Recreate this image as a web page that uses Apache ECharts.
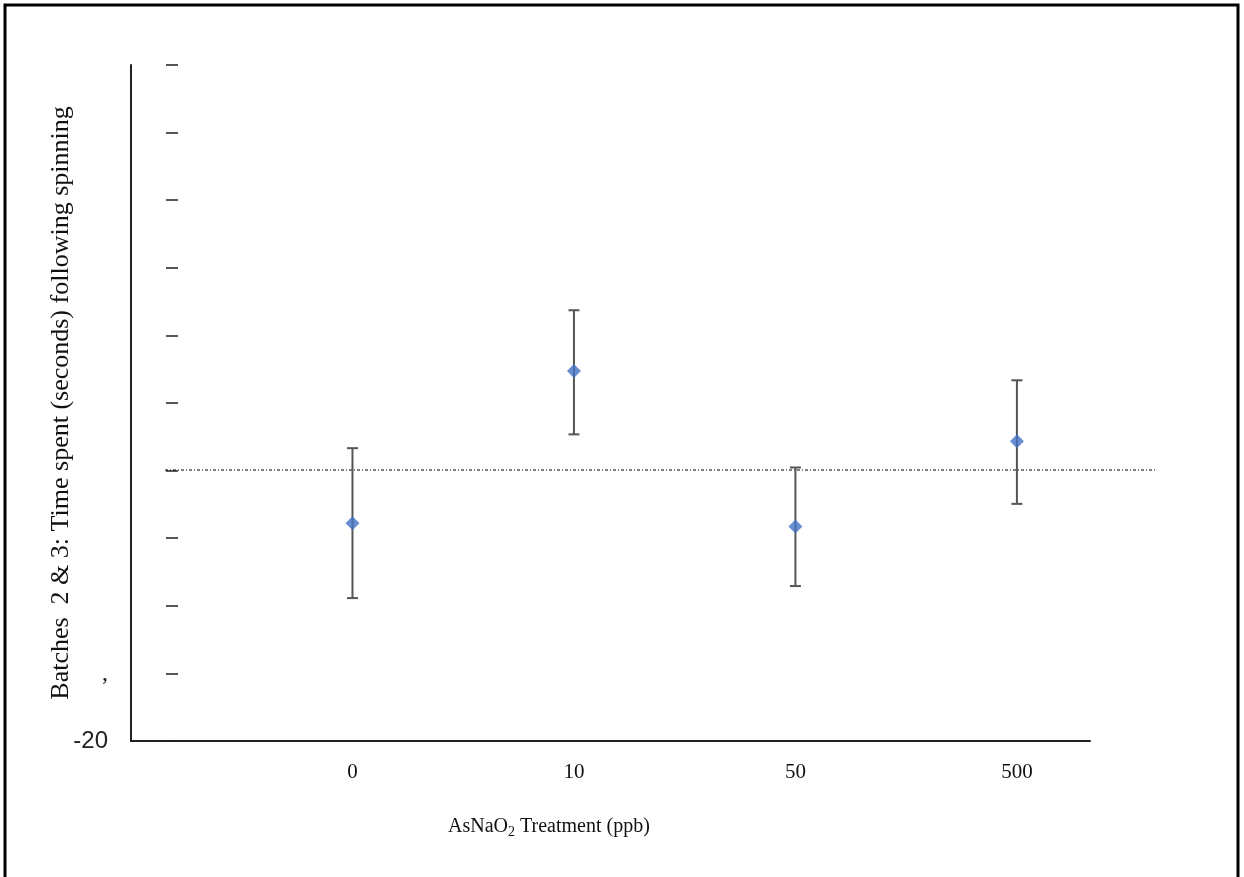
<!DOCTYPE html>
<html>
<head>
<meta charset="utf-8">
<script src="https://cdn.jsdelivr.net/npm/echarts@6/dist/echarts.min.js"></script>
<style>
html,body{margin:0;padding:0;background:#fff;}
#chart{width:1244px;height:877px;}
</style>
</head>
<body>
<div id="chart"></div>
<script>
// ---- data ----
const categories = ['0', '10', '50', '500'];
const means = [-3.90, 7.37, -4.14, 2.18];
const errLow = [-9.43, 2.68, -8.54, -2.46];
const errHigh = [1.66, 11.86, 0.23, 6.68];
const yMin = -20, yMax = 30, yStep = 5;
const refLineValue = 0;
const yTitle = 'Batches  2 & 3: Time spent (seconds) following spinning';

const pointData = means.map((m, i) => [i + 1, m]);
const errData = means.map((m, i) => [i + 1, errLow[i], errHigh[i]]);

const serif = '"Liberation Serif", "DejaVu Serif", serif';
const sans = '"Liberation Sans", Arial, sans-serif';

const chart = echarts.init(document.getElementById('chart'));
chart.setOption({
  backgroundColor: '#ffffff',
  animation: false,
  graphic: [{
    type: 'rect',
    shape: { x: 5, y: 5, width: 1233, height: 900 },
    style: { fill: 'none', stroke: '#000', lineWidth: 3 },
    silent: true
  }],
  title: {
    text: '{a|AsNaO}{s|2}{a| Treatment (ppb)}',
    left: 443,
    top: 810,
    textStyle: {
      fontWeight: 'normal',
      rich: {
        a: { fontFamily: serif, fontSize: 20, fontWeight: 'normal', color: '#111', lineHeight: 24 },
        s: { fontFamily: serif, fontSize: 14, fontWeight: 'normal', color: '#111', lineHeight: 14, verticalAlign: 'bottom' }
      }
    }
  },
  grid: [
    { left: 131, top: 65, width: 959, height: 676 },
    { left: 165, top: 65, width: 990, height: 675 }
  ],
  xAxis: [
    {
      gridIndex: 0, type: 'value', min: 0, max: 4.33, interval: 1,
      axisLine: { show: true, onZero: false, lineStyle: { color: '#222', width: 2 } },
      axisTick: { show: false },
      splitLine: { show: false },
      axisLabel: {
        showMaxLabel: false,
        margin: 21,
        fontFamily: serif, fontSize: 21, color: '#111',
        formatter: v => categories[v - 1] || ''
      }
    },
    {
      gridIndex: 1, type: 'value', min: 0, max: 1, show: false
    }
  ],
  yAxis: [
    {
      gridIndex: 0, type: 'value', min: yMin, max: yMax, interval: yStep,
      position: 'left',
      axisLine: { show: true, onZero: false, lineStyle: { color: '#222', width: 2 } },
      axisTick: { show: false },
      splitLine: { show: false },
      axisLabel: {
        margin: 23,
        formatter: v => v === yMin ? '{n|' + v + '}' : (v === yMin + yStep ? '{c|,}' : ''),
        rich: {
          n: { fontFamily: sans, fontSize: 24, color: '#222' },
          c: { fontFamily: serif, fontSize: 24, color: '#222' }
        }
      },
      name: yTitle,
      nameLocation: 'middle',
      nameRotate: 90,
      nameGap: 57,
      nameMoveOverlap: false,
      nameTextStyle: { fontFamily: serif, fontSize: 26, color: '#111' }
    },
    {
      gridIndex: 0, type: 'value', min: yMin, max: yMax, interval: yStep,
      position: 'left', offset: -47,
      axisLine: { show: false },
      axisTick: { show: true, length: 12, lineStyle: { color: '#222', width: 1.5 } },
      axisLabel: { show: false },
      splitLine: { show: false }
    },
    {
      gridIndex: 1, type: 'value', min: yMin, max: yMax, show: false
    }
  ],
  series: [
    {
      type: 'line',
      xAxisIndex: 1, yAxisIndex: 2,
      data: [[0, refLineValue], [1, refLineValue]],
      symbol: 'none',
      lineStyle: { color: '#000', width: 1, type: [3, 2, 1, 2] },
      silent: true,
      z: 1
    },
    {
      type: 'custom',
      xAxisIndex: 0, yAxisIndex: 0,
      data: errData,
      z: 2,
      renderItem: function (params, api) {
        const x = api.value(0);
        const lo = api.coord([x, api.value(1)]);
        const hi = api.coord([x, api.value(2)]);
        const cap = 5.5;
        const style = { stroke: '#555', lineWidth: 2 };
        return {
          type: 'group',
          children: [
            { type: 'line', shape: { x1: lo[0], y1: lo[1], x2: hi[0], y2: hi[1] }, style: style },
            { type: 'line', shape: { x1: lo[0] - cap, y1: lo[1], x2: lo[0] + cap, y2: lo[1] }, style: style },
            { type: 'line', shape: { x1: hi[0] - cap, y1: hi[1], x2: hi[0] + cap, y2: hi[1] }, style: style }
          ]
        };
      }
    },
    {
      type: 'scatter',
      xAxisIndex: 0, yAxisIndex: 0,
      data: pointData,
      symbol: 'diamond',
      symbolSize: [14, 14],
      itemStyle: { color: '#4472C4' },
      z: 3
    }
  ]
});
</script>
</body>
</html>
